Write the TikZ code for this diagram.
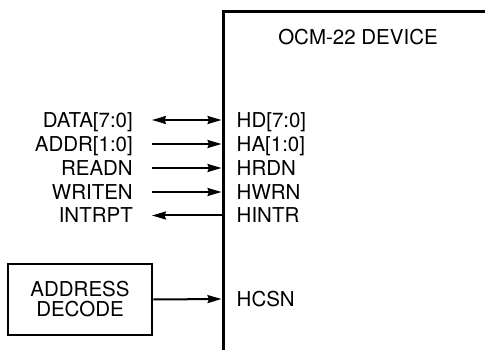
\documentclass[tikz,border=0pt]{standalone}
\usepackage{fontspec}
\setmainfont{TeX Gyre Heros}
\usetikzlibrary{arrows.meta}
\begin{document}
\begin{tikzpicture}[x=1pt,y=-1pt,
  lbl/.style={font=\fontsize{20.5}{20}\selectfont, text height=14.8pt, text depth=0pt, inner ysep=0pt},
  leftlbl/.style={lbl, anchor=east, inner xsep=19pt},
  pinlbl/.style={lbl, anchor=west, inner xsep=15pt},
  tip/.style={Stealth[length=14pt,width=8pt,inset=1.5pt]},
  sig/.style={line width=2pt, -{Stealth[length=14pt,width=8pt,inset=1.5pt]}},
  bisig/.style={line width=2pt, {Stealth[length=14pt,width=8pt,inset=1.5pt]}-{Stealth[length=14pt,width=8pt,inset=1.5pt]}}
]
\useasboundingbox (0,0) rectangle (485,350);
\clip (0,0) rectangle (485,350);
% device outline
\draw[line width=3pt] (490,12) -- (223,12) -- (223,360);
\node[lbl, anchor=center] (title) at (358,37) {OCM-22 DEVICE};
% pins
\node[pinlbl] (hd) at (221.5,120) {HD[7:0]};
\node[pinlbl] (ha) at (221.5,144) {HA[1:0]};
\node[pinlbl] (hrdn) at (221.5,168) {HRDN};
\node[pinlbl] (hwrn) at (221.5,192) {HWRN};
\node[pinlbl] (hintr) at (221.5,215.5) {HINTR};
\node[pinlbl] (hcsn) at (221.5,299) {HCSN};
% host signals
\node[leftlbl] (data) at (152,120) {DATA[7:0]};
\node[leftlbl] (addr) at (152,144) {ADDR[1:0]};
\node[leftlbl] (readn) at (152,168) {READN};
\node[leftlbl] (writen) at (152,192) {WRITEN};
\node[leftlbl] (intrpt) at (152,215.5) {INTRPT};
% address decode
\node[draw, line width=2.6pt, minimum width=144pt, minimum height=71pt, align=center,
  font=\fontsize{20.5}{20}\selectfont, inner sep=0pt] (dec) at (80,299.5) {ADDRESS\\DECODE};
% connectors
\draw[bisig] (data.east) -- (hd.west);
\draw[sig] (addr.east) -- (ha.west);
\draw[sig] (readn.east) -- (hrdn.west);
\draw[sig] (writen.east) -- (hwrn.west);
\draw[sig] (hintr.west) -- (intrpt.east);
\draw[sig] (dec.east) -- (hcsn.west);
\end{tikzpicture}
\end{document}
